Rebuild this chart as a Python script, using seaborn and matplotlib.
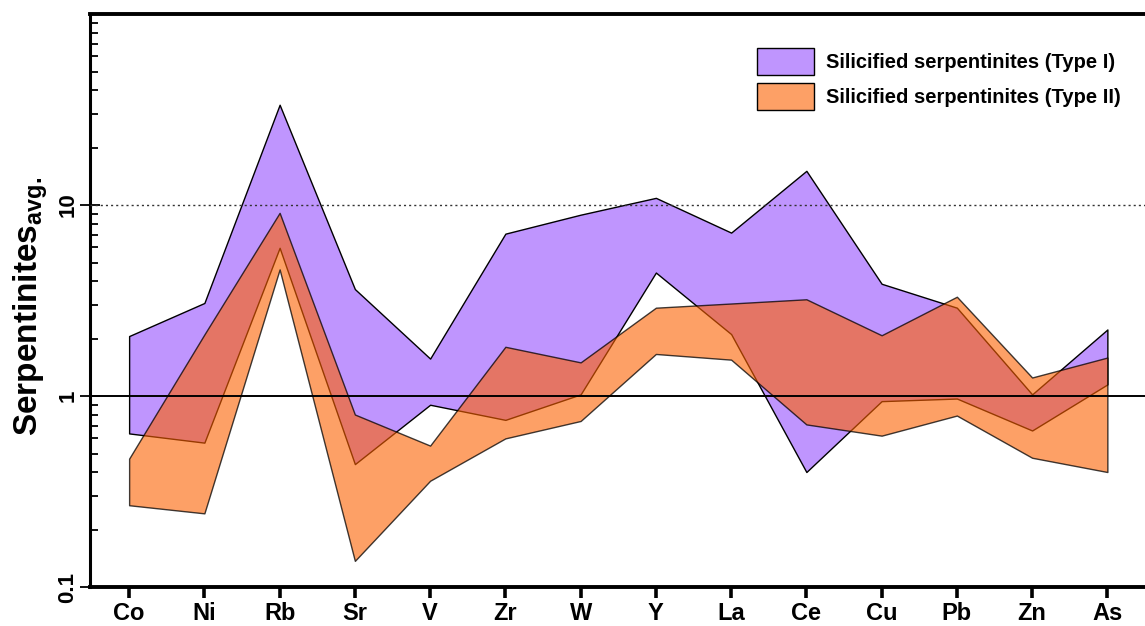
import numpy as np
import matplotlib.pyplot as plt
import seaborn as sns
from matplotlib.patches import Patch
from matplotlib.ticker import NullFormatter

# element order on the x axis
elements = ['Co', 'Ni', 'Rb', 'Sr', 'V', 'Zr', 'W', 'Y', 'La', 'Ce', 'Cu', 'Pb', 'Zn', 'As']

# Type I range (normalised to serpentinites avg.)
type1_high = [2.06, 3.07, 33.5, 3.63, 1.57, 7.08, 8.9, 10.9, 7.17, 15.1, 3.87, 2.90, 1.02, 2.23]
type1_low = [0.637, 0.57, 5.97, 0.44, 0.90, 0.75, 1.02, 4.43, 2.11, 0.40, 0.94, 0.97, 0.66, 1.15]

# Type II range
type2_high = [0.47, 2.10, 9.1, 0.80, 0.55, 1.81, 1.50, 2.90, 3.05, 3.21, 2.08, 3.31, 1.25, 1.59]
type2_low = [0.268, 0.243, 4.6, 0.137, 0.36, 0.60, 0.74, 1.66, 1.55, 0.71, 0.62, 0.79, 0.475, 0.40]

labels = ['Silicified serpentinites (Type I)', 'Silicified serpentinites (Type II)']

sns.set_style('ticks')
plt.rcParams['font.family'] = ['Liberation Sans', 'DejaVu Sans']
plt.rcParams['mathtext.fontset'] = 'custom'
plt.rcParams['mathtext.bf'] = 'Liberation Sans:bold'
plt.rcParams['mathtext.rm'] = 'Liberation Sans'
# plain black text and frame
for key in ['text.color', 'axes.labelcolor', 'xtick.color', 'ytick.color', 'axes.edgecolor']:
    plt.rcParams[key] = 'black'

purple = '#bf95fe'
orange = (253 / 255, 97 / 255, 0, 0.6)

fig = plt.figure(figsize=(11.45, 6.26), dpi=100)
ax = fig.add_axes([0.0786, 0.0623, 0.9214, 0.9153])

x = np.arange(len(elements))
ax.fill_between(x, type1_low, type1_high, facecolor=purple, edgecolor='black', linewidth=1.0, zorder=2)
ax.fill_between(x, type2_low, type2_high, facecolor=orange, edgecolor=(0, 0, 0, 0.75), linewidth=1.0, zorder=3)

ax.axhline(1, color='black', lw=1.4, zorder=4)
ax.axhline(10, color='#333333', lw=1.0, ls=(0, (1.5, 2.2)), zorder=4)

ax.set_yscale('log')
ax.set_ylim(0.1, 100)
ax.set_xlim(-0.52, 13.5)
ax.set_xticks(x)
ax.set_xticklabels(elements, fontweight='bold')
ax.set_yticks([0.1, 1, 10])
ax.set_yticklabels(['0.1', '1', '10'], rotation=90, va='center', fontweight='bold')
ax.yaxis.set_minor_formatter(NullFormatter())

ax.tick_params(axis='y', which='major', direction='inout', length=15, width=1.3, labelsize=16, pad=1)
ax.tick_params(axis='y', which='minor', direction='in', length=6, width=1.3)
ax.tick_params(axis='x', direction='out', length=8, width=2.6, labelsize=17, pad=3)

ax.spines['right'].set_visible(False)
ax.spines['left'].set_linewidth(2.2)
ax.spines['top'].set_linewidth(2.8)
ax.spines['bottom'].set_linewidth(2.8)

ax.set_ylabel(r'$\mathbf{Serpentinites}_{\mathbf{avg.}}$', fontsize=24)
ax.yaxis.set_label_coords(-0.038, 0.49)

handles = [Patch(facecolor=purple, edgecolor='black', linewidth=1.0),
           Patch(facecolor=orange, edgecolor='black', linewidth=1.0)]
ax.legend(handles, labels, loc='upper left', bbox_to_anchor=(0.632, 0.941),
          frameon=False, prop={'weight': 'bold', 'size': 14.5},
          handlelength=2.84, handleheight=1.7, labelspacing=0.4,
          handletextpad=0.6, borderpad=0, borderaxespad=0)

fig.savefig('out.png', dpi=100)
